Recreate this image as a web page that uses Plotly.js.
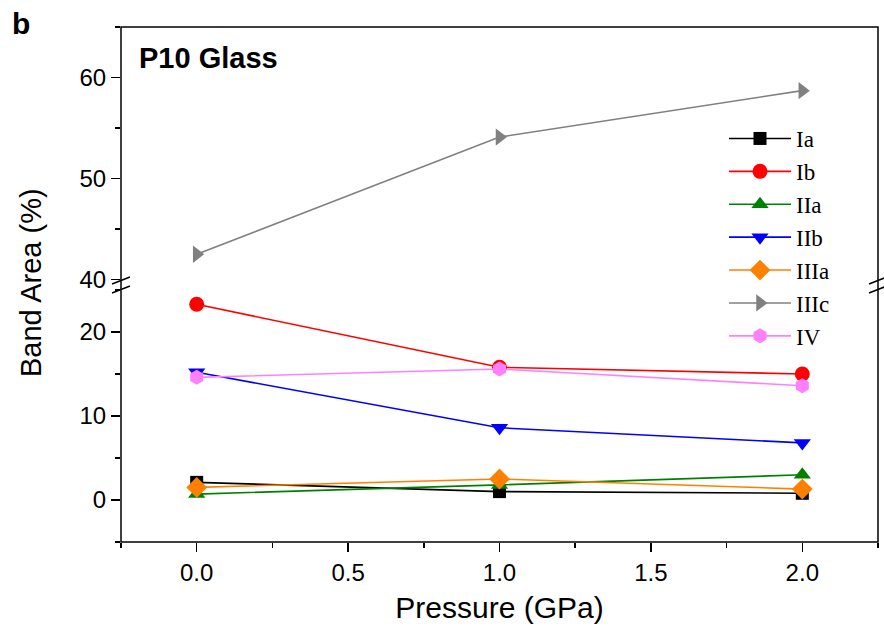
<!DOCTYPE html>
<html>
<head>
<meta charset="utf-8">
<script src="https://cdn.plot.ly/plotly-3.0.1.min.js"></script>
<style>
html,body{margin:0;padding:0;background:#fff;}
#chart{width:884px;height:633px;}
</style>
</head>
<body>
<div id="chart"></div>
<script>
// Data
const pressure = [0.0, 1.0, 2.0];
const seriesNames = ["Ia", "Ib", "IIa", "IIb", "IIIa", "IIIc", "IV"];
const Ia   = [2.1, 1.0, 0.8];
const Ib   = [23.3, 15.8, 15.0];
const IIa  = [0.7, 1.8, 3.0];
const IIb  = [15.2, 8.6, 6.8];
const IIIa = [1.5, 2.5, 1.3];
const IIIc = [42.5, 54.1, 58.7];
const IV   = [14.6, 15.6, 13.6];
const xTickVals = [0, 0.5, 1.0, 1.5, 2.0];
const xTickText = ["0.0", "0.5", "1.0", "1.5", "2.0"];
const yLowTicks = [0, 10, 20];
const yHighTicks = [40, 50, 60];

const values = [Ia, Ib, IIa, IIb, IIIa, IIIc, IV];
const colors = ["#000000", "#ff0000", "#008000", "#0000ff", "#ff8000", "#808080", "#ff80ff"];
const symbols = ["square", "circle", "triangle-up", "triangle-down", "diamond", "triangle-right", "hexagon"];
const sizes = [13, 15, 15, 15, 16, 15, 15];

const traces = seriesNames.map((n, i) => ({
  x: pressure,
  y: values[i],
  name: n,
  type: "scatter",
  mode: "lines+markers",
  yaxis: n === "IIIc" ? "y2" : "y",
  line: {color: colors[i], width: 1.6},
  marker: {color: colors[i], symbol: symbols[i], size: sizes[i], line: {width: 0}}
}));

const ax = "Arial, 'Liberation Sans', sans-serif";
const H = 515, W = 757;
const py = p => (542 - p) / H;
const px = p => (p - 121) / W;

const shapes = [
  {type: "rect", xref: "paper", yref: "paper", x0: 0, x1: 1, y0: 0, y1: 1,
   line: {color: "#000", width: 1.5}, fillcolor: "rgba(0,0,0,0)"}
];
[121, 878].forEach(cx => {
  [[284, 277], [293, 286]].forEach(([a, b]) => {
    shapes.push({type: "line", xref: "paper", yref: "paper",
      x0: px(cx - 9), x1: px(cx + 9), y0: py(a), y1: py(b),
      line: {color: "#000", width: 1.5}});
  });
});

const layout = {
  width: 884, height: 633,
  margin: {l: 121, r: 6, t: 27, b: 91},
  paper_bgcolor: "#fff", plot_bgcolor: "#fff",
  showlegend: true,
  legend: {
    x: px(724), y: py(117), xanchor: "left", yanchor: "top",
    bgcolor: "rgba(0,0,0,0)", borderwidth: 0,
    font: {family: "'Liberation Serif', 'Times New Roman', serif", size: 23, color: "#000"},
    itemwidth: 62, tracegroupgap: 0
  },
  xaxis: {
    range: [-0.25, 2.25], tickvals: xTickVals, ticktext: xTickText,
    ticks: "outside", ticklen: 9, tickwidth: 1.5, tickcolor: "#000",
    minor: {dtick: 0.25, tick0: 0, ticks: "outside", ticklen: 5, tickwidth: 1.5, tickcolor: "#000"},
    showgrid: false, zeroline: false, showline: false,
    tickfont: {family: ax, size: 24, color: "#000"},
    title: {text: "Pressure (GPa)", font: {family: ax, size: 30, color: "#000"}, standoff: 12},
    anchor: "y"
  },
  yaxis: {
    domain: [0, 252 / H], range: [-5, 25], tickvals: yLowTicks,
    ticks: "outside", ticklen: 9, tickwidth: 1.5, tickcolor: "#000",
    minor: {dtick: 5, tick0: 0, ticks: "outside", ticklen: 5, tickwidth: 1.5, tickcolor: "#000"},
    showgrid: false, zeroline: false, showline: false,
    tickfont: {family: ax, size: 24, color: "#000"},
    anchor: "x"
  },
  yaxis2: {
    domain: [(542 - 279.5) / H, 1], range: [40, 65], tickvals: yHighTicks,
    ticks: "outside", ticklen: 9, tickwidth: 1.5, tickcolor: "#000",
    minor: {dtick: 5, tick0: 0, ticks: "outside", ticklen: 5, tickwidth: 1.5, tickcolor: "#000"},
    showgrid: false, zeroline: false, showline: false,
    tickfont: {family: ax, size: 24, color: "#000"},
    anchor: "x"
  },
  shapes: shapes,
  annotations: [
    {text: "<b>P10 Glass</b>", xref: "paper", yref: "paper", x: px(137), y: py(58),
     xanchor: "left", yanchor: "middle", showarrow: false,
     font: {family: ax, size: 29, color: "#000"}},
    {text: "<b>b</b>", xref: "paper", yref: "paper", x: px(10), y: py(24),
     xanchor: "left", yanchor: "middle", showarrow: false,
     font: {family: ax, size: 30, color: "#000"}},
    {text: "Band Area (%)", xref: "paper", yref: "paper", x: px(31), y: py(283),
     xanchor: "center", yanchor: "middle", showarrow: false, textangle: -90,
     font: {family: ax, size: 29, color: "#000"}}
  ]
};

Plotly.newPlot("chart", traces, layout, {displayModeBar: false, staticPlot: true});
</script>
</body>
</html>
